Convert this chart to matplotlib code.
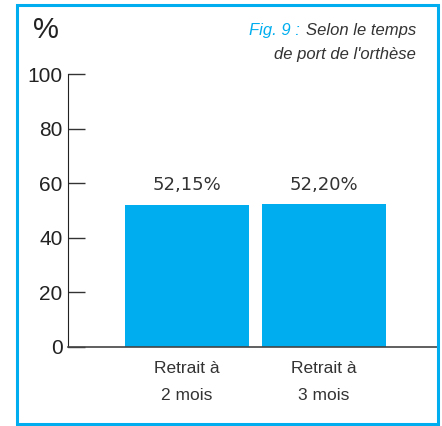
import matplotlib.pyplot as plt
from matplotlib.patches import Rectangle

plt.rcParams["font.family"] = ["Liberation Sans", "DejaVu Sans"]

categories = ["Retrait à\n2 mois", "Retrait à\n3 mois"]
values = [52.15, 52.20]
value_labels = ["52,15%", "52,20%"]
yticks = [0, 20, 40, 60, 80, 100]

cyan = "#00AEEF"
dark = "#333333"

fig = plt.figure(figsize=(4.42, 4.26), dpi=100)
ax = fig.add_axes([68/442, 1 - 347/426, (437-68)/442, (347-74)/426])

x = list(range(len(values)))
ax.bar(x, values, width=0.905, color=cyan, zorder=2)
ax.set_xlim(-0.869, 1.825)
ax.set_ylim(0, 100)

for xi, v, lab in zip(x, values, value_labels):
    ax.text(xi, v + 4.0, lab, ha="center", va="bottom", fontsize=13,
            color=dark, family="DejaVu Sans")

ax.set_yticks(yticks)
ax.set_yticklabels([str(t) for t in yticks], fontsize=15, color="#222222")
ax.tick_params(axis="y", direction="in", length=12, width=1, color="#333333", pad=4)
ax.set_xticks(x)
ax.set_xticklabels(categories, fontsize=12.5, color=dark, linespacing=2.0)
ax.tick_params(axis="x", length=0, pad=10)

for s in ["top", "right"]:
    ax.spines[s].set_visible(False)
ax.spines["left"].set_color("#222222")
ax.spines["bottom"].set_color("#444444")
ax.spines["bottom"].set_linewidth(1.2)

# outer frame
fig.patches.append(Rectangle((17/442, 2/426), (438-17)/442, (421-2)/426,
                             transform=fig.transFigure, fill=False,
                             edgecolor=cyan, linewidth=2.2))

fig.text(33/442, 1 - 30/426, "%", fontsize=21, color="#222222",
         va="center", ha="left")

t1 = fig.text(416/442, 1 - 31/426, "Selon le temps", fontsize=12, color=dark,
              style="italic", ha="right", va="center")
fig.text(416/442, 1 - 54/426, "de port de l'orthèse", fontsize=12, color=dark,
         style="italic", ha="right", va="center")
fig.canvas.draw()
bb = t1.get_window_extent()
fig.text((bb.x0 - 6) / 442, 1 - 31/426, "Fig. 9 :", fontsize=12, color=cyan,
         style="italic", ha="right", va="center")

fig.savefig("out.png", dpi=100)
